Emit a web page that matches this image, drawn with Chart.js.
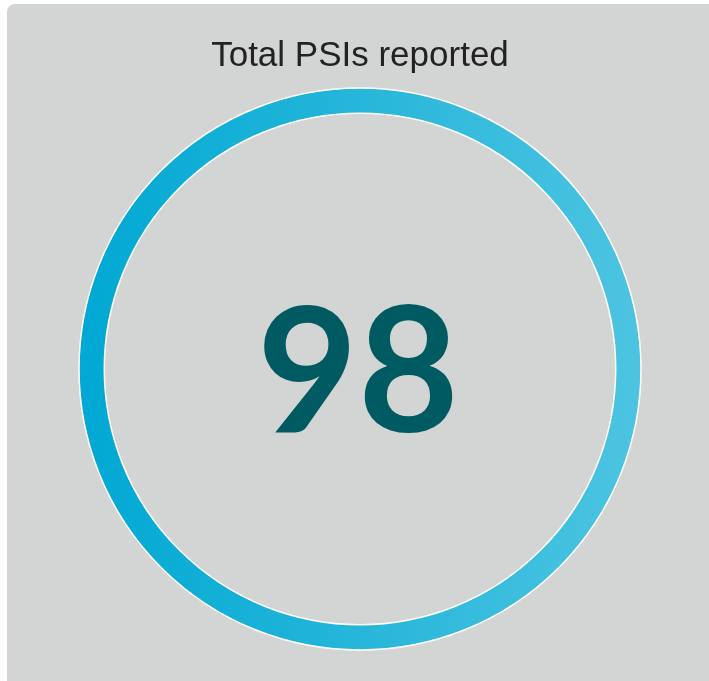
<!DOCTYPE html>
<html>
<head>
<meta charset="utf-8">
<script src="https://cdn.jsdelivr.net/npm/chart.js@4.4.1/dist/chart.umd.min.js"></script>
<style>
  body { margin: 0; background: #fff; overflow: hidden; }
  #wrap { position: relative; width: 709px; height: 681px; }
  #panel { position: absolute; left: 7px; top: 4px; width: 720px; height: 700px; background: #d3d5d5; border-radius: 8px; }
  #box { position: absolute; left: 0; top: 0; width: 709px; height: 681px; }
</style>
</head>
<body>
<div id="wrap">
  <div id="panel"></div>
  <div id="box"><canvas id="canvasId"></canvas></div>
</div>
<script>
const labels = ['Total PSIs reported'];
const values = [98];
const title = 'Total PSIs reported';

// ring fill, left to right
const ringGradient = (ctx) => {
    const area = ctx.chart.chartArea;
    if (!area) return '#1fb3da';
    const g = ctx.chart.ctx.createLinearGradient(area.left, 0, area.right, 0);
    g.addColorStop(0, '#00a8d3');
    g.addColorStop(1, '#4dc4e1');
    return g;
};

// white edges on both sides of the ring, no seam at the top
const ringEdges = {
    id: 'ringEdges',
    afterDatasetsDraw(chart) {
        const arc = chart.getDatasetMeta(0).data[0];
        if (!arc) return;
        const c = chart.ctx;
        c.save();
        c.strokeStyle = '#ffffff';
        c.lineWidth = 1.5;
        [arc.outerRadius, arc.innerRadius].forEach(r => {
            c.beginPath();
            c.arc(arc.x, arc.y, r, 0, Math.PI * 2);
            c.stroke();
        });
        c.restore();
    }
};

const centerValue = {
    id: 'centerValue',
    afterDraw(chart) {
        const arc = chart.getDatasetMeta(0).data[0];
        if (!arc) return;
        const c = chart.ctx;
        c.save();
        c.fillStyle = '#005a61';
        c.font = '700 174px Lato';
        c.textAlign = 'center';
        c.textBaseline = 'alphabetic';
        c.fillText(String(values[0]), arc.x - 2, arc.y + 63);
        c.restore();
    }
};

const ctx = document.querySelector('#canvasId');

const config = {
    type: 'doughnut',
    data: {
        labels: labels,
        datasets: [{
            data: values,
            backgroundColor: ringGradient,
            borderWidth: 0,
        }],
    },
    options: {
        responsive: true,
        maintainAspectRatio: false,
        animation: false,
        events: [],
        cutout: '91%',
        layout: {
            padding: { left: 79, right: 68, top: 25, bottom: 31 },
        },
        plugins: {
            legend: { display: false },
            tooltip: { enabled: false },
            title: {
                display: true,
                text: title,
                color: '#222222',
                font: { family: '"Liberation Sans", Arial, sans-serif', size: 35, weight: 'normal', lineHeight: 1.2 },
                padding: { top: 10.2, bottom: 10.8 },
            },
        },
    },
    plugins: [ringEdges, centerValue],
};

const chart = new Chart(ctx, config);
</script>
</body>
</html>
